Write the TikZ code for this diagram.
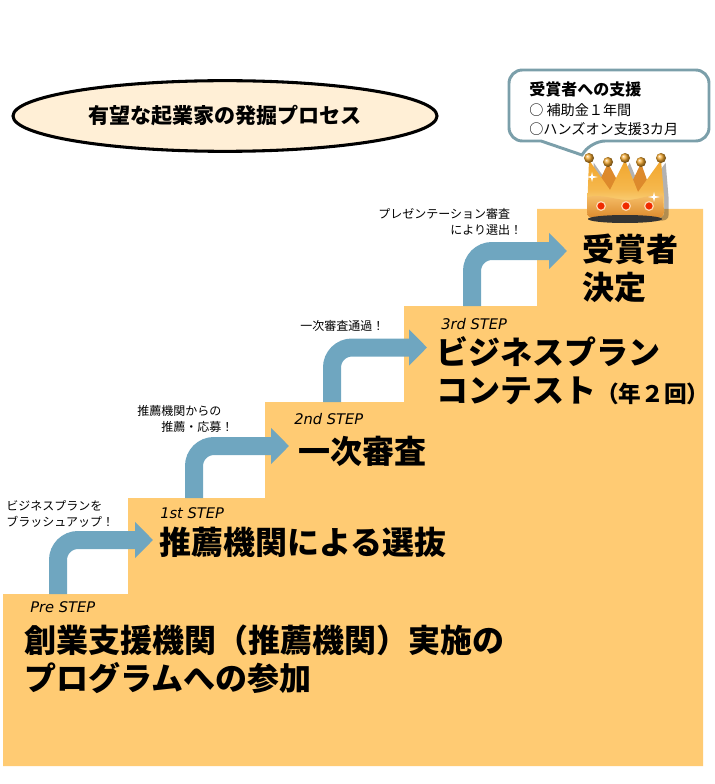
\documentclass[tikz,border=0pt]{standalone}
\usepackage{fontspec}
\setmainfont{Noto Sans CJK JP}
\newfontfamily\stepfont{DejaVu Sans}
\usetikzlibrary{arrows.meta,shadings,shapes.geometric}

\definecolor{stairfill}{HTML}{FFCB73}
\definecolor{arrowblue}{HTML}{6FA6C0}
\definecolor{ovalfill}{HTML}{FFEFD6}
\definecolor{calloutline}{HTML}{7B9FAA}
\definecolor{crowngold}{HTML}{F2A62C}
\definecolor{crownpale}{HTML}{FFEDB0}
\definecolor{crowndark}{HTML}{DD8A2C}
\definecolor{gemred}{HTML}{F02A00}

\newcommand{\crownoutline}{(589,160) -- (610,190) -- (625,160) -- (638,192) -- (661,160) -- (664,196)
	-- (664,212) .. controls (664,217) and (660,218) .. (656,218) -- (594,218) .. controls (590,218) and (587,217) .. (587,212) -- cycle}

\tikzset{
	bigtext/.style={anchor=west,align=left,inner sep=0pt,font=\fontsize{24pt}{28.6pt}\selectfont\bfseries},
	smalltext/.style={anchor=west,align=left,inner sep=0pt,font=\fontsize{9pt}{12pt}\selectfont},
	steptext/.style={anchor=west,inner sep=0pt,font=\stepfont\fontsize{11pt}{12pt}\selectfont\itshape},
	stairarrow/.style={draw=arrowblue,line width=13.5pt,rounded corners=15pt,-{Triangle[length=13.5pt,width=26.5pt]}},
	crownball/.style={circle,inner sep=0pt,minimum size=7.5pt,ball color=crowngold},
	crowngem/.style={circle,draw=orange!30!white,line width=.9pt,fill=gemred,inner sep=0pt,minimum size=6.5pt}
}

\begin{document}
\begin{tikzpicture}[x=.75pt,y=-.75pt]
	\useasboundingbox (0,0) rectangle (714,784);

	% stairs
	\fill[stairfill] (3,766) -- (3,594) -- (128,594) -- (128,498) -- (265,498) -- (265,402)
		-- (404,402) -- (404,306) -- (537,306) -- (537,209) -- (703,209) -- (703,766) -- cycle;

	% oval title
	\node(title)[draw,ellipse,line width=2.3pt,fill=ovalfill,minimum width=318pt,minimum height=53pt,inner sep=0pt,
		font=\fontsize{15.8pt}{18pt}\selectfont\bfseries] at (225,116) {有望な起業家の発掘プロセス};

	% speech bubble
	\draw[calloutline,line width=2.2pt,fill=white,rounded corners=10pt] (509,70) -- (709,70) -- (709,141)
		-- (592,141) [sharp corners] -- (582,155) -- (541,141) [rounded corners=10pt] -- (509,141) -- cycle;
	\node(support)[anchor=west,align=left,inner sep=0pt,font=\fontsize{10.6pt}{14.6pt}\selectfont] at (529,109)
		{{\bfseries\fontsize{12pt}{14.6pt}\selectfont 受賞者への支援}\\○ 補助金１年間\\○ハンズオン支援3カ月};

	% crown
	\fill[black,opacity=.3,xshift=3.5pt,yshift=-2pt] \crownoutline;
	\fill[crowndark] (600,180) -- (608,163) -- (617,180) -- (610,192) -- cycle;
	\fill[crowndark] (633,180) -- (641,163) -- (647,180) -- (638,194) -- cycle;
	\shade[top color=crowngold,bottom color=crownpale,middle color=crowngold!75!crownpale] \crownoutline;
	\shade[top color=crowngold!70!white,bottom color=crowndark] (587,197) .. controls (603,194) and (612,199) .. (626,200)
		.. controls (640,200) and (648,194) .. (663,195) -- (664,212) .. controls (664,217) and (660,218) .. (656,218)
		-- (594,218) .. controls (590,218) and (587,217) .. (587,212) -- cycle;
	\fill[black!80] (625,219) ellipse (37 and 4);
	\fill[white] (592,172) -- (593,176) -- (598,177) -- (593,178) -- (592,182) -- (591,178) -- (586,177) -- (591,176) -- cycle;
	\fill[white] (654,192) -- (655,196) -- (660,197) -- (655,198) -- (654,202) -- (653,198) -- (648,197) -- (653,196) -- cycle;
	\node(ball1)[crownball] at (589,158) {};
	\node(ball2)[crownball] at (608,162) {};
	\node(ball3)[crownball] at (625,158) {};
	\node(ball4)[crownball] at (641,162) {};
	\node(ball5)[crownball] at (661,158) {};
	\node(gem1)[crowngem] at (601,206) {};
	\node(gem2)[crowngem] at (626,206) {};
	\node(gem3)[crowngem] at (649,206) {};

	% arrows
	\coordinate (a0) at (58,594);
	\coordinate (b0) at (153,540);
	\coordinate (a1) at (194,498);
	\coordinate (b1) at (289,446);
	\coordinate (a2) at (332,402);
	\coordinate (b2) at (427,347.5);
	\coordinate (a3) at (472,306);
	\coordinate (b3) at (567,251);
	\draw[stairarrow] (a0) |- (b0);
	\draw[stairarrow] (a1) |- (b1);
	\draw[stairarrow] (a2) |- (b2);
	\draw[stairarrow] (a3) |- (b3);

	% step texts
	\node(pre)[steptext] at (30,607) {Pre STEP};
	\node(first)[steptext] at (160,513) {1st STEP};
	\node(second)[steptext] at (294,419) {2nd STEP};
	\node(third)[steptext] at (441,324) {3rd STEP};

	\node(prog)[bigtext] at (24,659) {創業支援機関（推薦機関）実施の\\プログラムへの参加};
	\node(select)[bigtext] at (159,542) {推薦機関による選抜};
	\node(review)[bigtext] at (298,451) {一次審査};
	\node(contest)[bigtext] at (436,371) {ビジネスプラン\\コンテスト{\fontsize{17pt}{20pt}\selectfont （年２回）}};
	\node(winner)[bigtext] at (582,268) {受賞者\\決定};

	% notes
	\node(note0)[smalltext] at (6,514) {ビジネスプランを\\ブラッシュアップ！};
	\node(note1)[smalltext] at (137,419) {推薦機関からの\\\hspace*{18pt}推薦・応募！};
	\node(note2)[smalltext] at (300,326) {一次審査通過！};
	\node(note3)[smalltext] at (378,222) {プレゼンテーション審査\\\hspace*{54pt}により選出！};
\end{tikzpicture}
\end{document}
